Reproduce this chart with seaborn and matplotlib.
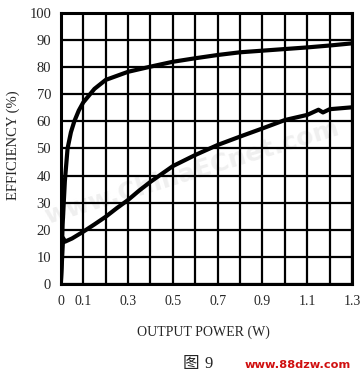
import numpy as np
import pandas as pd
import matplotlib
matplotlib.use("Agg")
import matplotlib.pyplot as plt
import seaborn as sns

# values (output power in W, efficiency in %)
power_upper = [0.0, 0.008, 0.018, 0.03, 0.045, 0.06, 0.08, 0.1, 0.15, 0.2, 0.3, 0.4, 0.5,
               0.6, 0.7, 0.8, 0.9, 1.0, 1.1, 1.2, 1.3]
eff_upper = [0.0, 22, 38, 50, 56, 60, 64, 67, 72, 75.3, 78.3, 80.2, 82,
             83.3, 84.5, 85.5, 86.1, 86.7, 87.3, 88.0, 88.8]

power_lower = [0.0, 0.01, 0.018, 0.05, 0.1, 0.15, 0.2, 0.25, 0.3, 0.35, 0.4, 0.5, 0.6, 0.7,
               0.8, 0.9, 1.0, 1.1, 1.15, 1.17, 1.2, 1.3]
eff_lower = [0.0, 17, 15.6, 16.8, 19.3, 22, 24.8, 28, 31, 34.5, 37.7, 43.5, 47.6, 51.3,
             54.4, 57.4, 60.5, 62.4, 64.3, 63.3, 64.5, 65.2]

x_ticks = [0, 0.1, 0.3, 0.5, 0.7, 0.9, 1.1, 1.3]
x_tick_labels = ["0", "0.1", "0.3", "0.5", "0.7", "0.9", "1.1", "1.3"]
y_ticks = list(range(0, 101, 10))

sns.set_style("white")
plt.rcParams['font.family'] = ['Liberation Serif', 'Noto Sans CJK SC', 'DejaVu Sans']

fig = plt.figure(figsize=(3.6, 3.81), dpi=100)
ax = fig.add_axes([0.169, 0.2546, 0.809, 0.7113])

df_up = pd.DataFrame({"power": power_upper, "eff": eff_upper})
df_lo = pd.DataFrame({"power": power_lower, "eff": eff_lower})
sns.lineplot(data=df_up, x="power", y="eff", ax=ax, color="black", lw=3.0, sort=False, zorder=3)
sns.lineplot(data=df_lo, x="power", y="eff", ax=ax, color="black", lw=3.0, sort=False, zorder=3)

ax.set_xlim(0, 1.3)
ax.set_ylim(0, 100)
ax.set_xticks(np.arange(0, 1.31, 0.1), minor=True)
ax.set_xticks(x_ticks)
ax.set_xticklabels(x_tick_labels, fontsize=10)
ax.set_yticks(y_ticks)
ax.set_yticklabels([str(v) for v in y_ticks], fontsize=10.5)
ax.grid(True, which="both", axis="x", color="black", lw=1.6)
ax.grid(True, which="major", axis="y", color="black", lw=1.6)
ax.tick_params(which="both", length=0)
ax.tick_params(axis="x", pad=8)
ax.tick_params(axis="y", pad=7)
for s in ax.spines.values():
    s.set_visible(True)
    s.set_color("black")
    s.set_linewidth(2.2)

# faint watermark across the plot
ax.text(0.45, 0.41, "www.ChinaECnet.com", transform=ax.transAxes, rotation=17,
        fontsize=18, weight="bold", color="#efefef", ha="center", va="center",
        family="DejaVu Sans", zorder=0.5)

ax.set_xlabel("OUTPUT POWER (W)", fontsize=10)
ax.xaxis.set_label_coords(0.49, -0.155)
ax.set_ylabel("EFFICIENCY (%)", fontsize=10.5)
ax.yaxis.set_label_coords(-0.14, 0.513)

fig.text(0.506, 0.034, "图", fontsize=12, ha="left", va="baseline")
fig.text(0.569, 0.034, "9", fontsize=12, ha="left", va="baseline")
fig.text(0.975, 0.034, "www.88dzw.com", fontsize=8.2, color="#d01010", weight="bold",
         ha="right", va="baseline", family="DejaVu Sans")

fig.savefig("out.png", dpi=100)
